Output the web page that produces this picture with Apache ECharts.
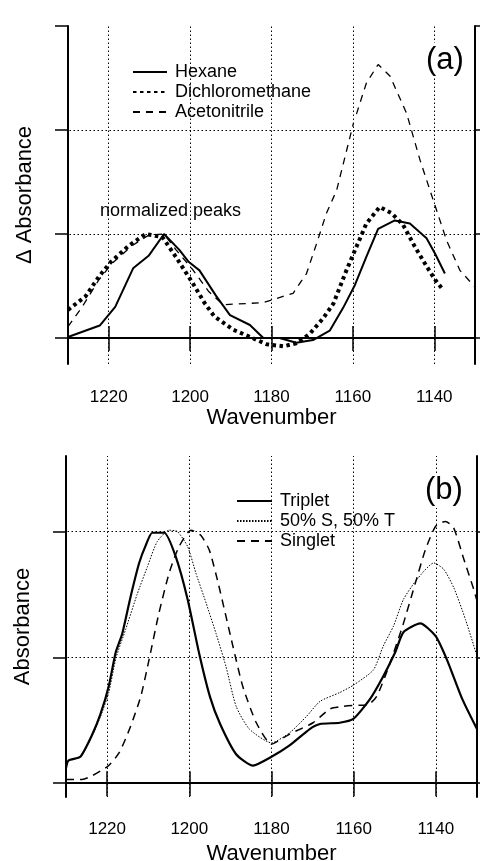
<!DOCTYPE html>
<html>
<head>
<meta charset="utf-8">
<script src="https://cdn.jsdelivr.net/npm/echarts@6/dist/echarts.min.js"></script>
<style>
  html, body { margin: 0; padding: 0; background: #fff; }
  #main { width: 480px; height: 861px; }
</style>
</head>
<body>
<div id="main"></div>
<script>
// panel (a): delta absorbance, normalized peaks
const hexWn = [1230, 1222.2, 1218.4, 1214, 1210.2, 1206.4, 1202.7, 1200.3, 1197.7, 1193.7, 1190.2, 1185.3, 1182, 1178, 1173.9, 1169.8, 1165.7, 1162.4, 1159.5, 1156.7, 1153.8, 1149.7, 1146, 1141.9, 1139.8, 1137.4]
const hexAbs = [0.01, 0.12, 0.30, 0.67, 0.79, 1.0, 0.85, 0.73, 0.65, 0.41, 0.22, 0.125, 0.0, 0.0, -0.045, -0.02, 0.07, 0.29, 0.51, 0.78, 1.05, 1.13, 1.10, 0.96, 0.81, 0.62]
const dcmWn = [1230, 1225.7, 1222.4, 1219.5, 1215, 1210.9, 1206.8, 1203.5, 1199.4, 1196.5, 1194.1, 1189.4, 1185.3, 1181.2, 1177.1, 1173.9, 1170.6, 1167.3, 1164.8, 1161.6, 1159.1, 1156.7, 1153.4, 1150.5, 1147.7, 1144.8, 1141.9, 1139.8, 1137.8]
const dcmAbs = [0.27, 0.40, 0.59, 0.73, 0.89, 1.0, 0.97, 0.78, 0.53, 0.34, 0.21, 0.08, 0.01, -0.06, -0.08, -0.05, 0.04, 0.19, 0.33, 0.65, 0.88, 1.10, 1.26, 1.20, 1.09, 0.88, 0.69, 0.56, 0.46]
const acnWn = [1230, 1226.5, 1222.4, 1219.1, 1214.2, 1210.1, 1206.4, 1203.5, 1199.4, 1195.5, 1191.9, 1182, 1174.7, 1171.4, 1168.9, 1166.5, 1164, 1159.9, 1156.7, 1153.8, 1150.9, 1146.8, 1143.5, 1140.3, 1137, 1133.7, 1130]
const acnAbs = [0.11, 0.30, 0.56, 0.72, 0.89, 0.99, 1.0, 0.85, 0.66, 0.45, 0.32, 0.34, 0.43, 0.62, 0.91, 1.20, 1.42, 2.06, 2.45, 2.63, 2.52, 2.16, 1.71, 1.33, 0.94, 0.65, 0.49]

// panel (b): absorbance
const tripWn = [1230, 1229.4, 1226.5, 1223.7, 1221.6, 1219.6, 1217.9, 1216.3, 1214.3, 1212.2, 1210.6, 1209, 1206.1, 1203.3, 1200.4, 1197.6, 1195, 1192.5, 1188.6, 1184.5, 1180, 1175.6, 1170.7, 1168.2, 1163.4, 1160.1, 1156, 1152.8, 1149.9, 1147.9, 1143.8, 1140.1, 1137.3, 1133.6, 1130]
const tripAbs = [0.12, 0.18, 0.21, 0.38, 0.55, 0.77, 1.04, 1.19, 1.48, 1.75, 1.89, 1.99, 1.99, 1.80, 1.46, 1.03, 0.69, 0.47, 0.23, 0.14, 0.21, 0.30, 0.43, 0.47, 0.48, 0.51, 0.67, 0.85, 1.04, 1.20, 1.27, 1.17, 0.98, 0.67, 0.43]
const mixWn = [1230, 1229.4, 1226.5, 1223.7, 1221.6, 1219.6, 1217.8, 1215.5, 1212.7, 1210.2, 1207.8, 1204.9, 1202.9, 1200.4, 1198.4, 1195.9, 1193.5, 1191.1, 1188.6, 1185.4, 1180, 1175.6, 1171.5, 1168.2, 1163.4, 1160, 1155.2, 1152.8, 1150.3, 1147.9, 1144.6, 1140.5, 1138.1, 1135.6, 1132.8, 1130]
const mixAbs = [0.12, 0.18, 0.21, 0.37, 0.53, 0.72, 1.0, 1.22, 1.50, 1.72, 1.92, 2.01, 2.0, 1.88, 1.67, 1.43, 1.19, 0.93, 0.61, 0.43, 0.32, 0.40, 0.53, 0.65, 0.72, 0.78, 0.90, 1.09, 1.25, 1.46, 1.62, 1.75, 1.70, 1.55, 1.30, 1.01]
const singWn = [1230, 1226.1, 1220, 1217.1, 1214.3, 1211.8, 1209.8, 1207.4, 1204.9, 1202.5, 1199.6, 1197.2, 1195.1, 1192.9, 1189.4, 1187, 1183.7, 1180, 1175.6, 1169.9, 1165.8, 1162.6, 1158.5, 1156.8, 1154.4, 1151.1, 1147.9, 1145, 1142.6, 1140.1, 1137.7, 1135.7, 1133.2, 1130.8, 1130]
const singAbs = [0.03, 0.03, 0.13, 0.24, 0.45, 0.69, 0.98, 1.35, 1.67, 1.88, 2.01, 1.97, 1.85, 1.58, 1.09, 0.77, 0.48, 0.31, 0.39, 0.48, 0.59, 0.61, 0.62, 0.62, 0.69, 0.96, 1.27, 1.59, 1.85, 2.04, 2.08, 2.03, 1.78, 1.54, 1.45]

const xTicks = [1140, 1160, 1180, 1200, 1220]
const yTicksA = [0, 1, 2, 3]
const yTicksB = [0, 1, 2]

const FONT = 'Liberation Sans, Arial, sans-serif'

function pairs (xs, ys) {
  return xs.map((x, i) => [x, ys[i]])
}

function gridLines () {
  const dotted = { type: [1.5, 2.5], width: 1, color: '#000' }
  const data = xTicks.map(v => ({ xAxis: v, lineStyle: dotted }))
  data.push({ yAxis: 1, lineStyle: dotted })
  data.push({ yAxis: 2, lineStyle: dotted })
  data.push({ yAxis: 0, lineStyle: { type: [8, 5], width: 1.5, color: '#000' } })
  return { silent: true, symbol: 'none', label: { show: false }, emphasis: { disabled: true }, data: data }
}

function xAxes (gridIndex, margin, gap) {
  const line = { show: true, lineStyle: { color: '#000', width: 2 } }
  return [
    {
      type: 'value', gridIndex: gridIndex, position: 'bottom', min: 1130, max: 1230, inverse: true,
      axisLine: line,
      axisTick: { show: true, customValues: xTicks, length: 13, lineStyle: { color: '#000', width: 1.5 } },
      axisLabel: { customValues: xTicks, color: '#000', fontSize: 17, fontFamily: FONT, margin: margin,
        formatter: v => String(v) },
      splitLine: { show: false },
      name: 'Wavenumber', nameLocation: 'middle', nameGap: gap,
      nameTextStyle: { color: '#000', fontSize: 22, fontFamily: FONT }
    },
    {
      type: 'value', gridIndex: gridIndex, position: 'top', min: 1130, max: 1230, inverse: true,
      axisLine: line,
      axisTick: { show: true, customValues: xTicks, length: 12, lineStyle: { color: '#000', width: 1.5 } },
      axisLabel: { show: false },
      splitLine: { show: false }
    }
  ]
}

function yAxes (gridIndex, min, max, ticks, title) {
  const line = { show: true, lineStyle: { color: '#000', width: 2 } }
  return [
    {
      type: 'value', gridIndex: gridIndex, position: 'left', min: min, max: max,
      axisLine: line,
      axisTick: { show: true, customValues: ticks, length: 13, lineStyle: { color: '#000', width: 1.5 } },
      axisLabel: { show: false },
      splitLine: { show: false },
      name: title, nameLocation: 'middle', nameGap: 32,
      nameTextStyle: { color: '#000', fontSize: 22, fontFamily: FONT }
    },
    {
      type: 'value', gridIndex: gridIndex, position: 'right', min: min, max: max,
      axisLine: line,
      axisTick: { show: true, customValues: ticks, length: 12, lineStyle: { color: '#000', width: 1.5 } },
      axisLabel: { show: false },
      splitLine: { show: false }
    }
  ]
}

function lineSeries (name, data, xi, yi, style, smooth) {
  return {
    name: name, type: 'line', data: data, xAxisIndex: xi, yAxisIndex: yi,
    symbol: 'none', smooth: smooth, animation: false,
    itemStyle: { color: '#000' },
    lineStyle: Object.assign({ color: '#000' }, style)
  }
}

const myChart = echarts.init(document.getElementById('main'), null, { renderer: 'canvas' })

const hexStyle = { width: 2, type: 'solid' }
const dcmStyle = { width: 4, type: [3.5, 3.5] }
const acnStyle = { width: 1.3, type: [7, 6] }
const tripStyle = { width: 2.2, type: 'solid' }
const mixStyle = { width: 1, type: [1.5, 1.5] }
const singStyle = { width: 1.5, type: [8, 6] }

const s1 = lineSeries('Hexane', pairs(hexWn, hexAbs), 0, 0, hexStyle, false)
s1.markLine = gridLines()
const s4 = lineSeries('Triplet', pairs(tripWn, tripAbs), 2, 2, tripStyle, 0.2)
s4.markLine = gridLines()

const legendBase = {
  orient: 'vertical', itemHeight: 18, itemGap: 2,
  backgroundColor: '#fff', selectedMode: false,
  itemStyle: { opacity: 0 },
  textStyle: { fontSize: 18, color: '#000', fontFamily: FONT, padding: [0, 0, 0, 3] }
}

const option = {
  backgroundColor: '#fff',
  animation: false,
  textStyle: { fontFamily: FONT },
  grid: [
    { left: 68, right: 5, top: 26, height: 338, outerBoundsMode: 'none' },
    { left: 66, right: 3, top: 456, height: 341, outerBoundsMode: 'none' }
  ],
  xAxis: xAxes(0, 25, 41).concat(xAxes(1, 24, 46)),
  yAxis: yAxes(0, -0.25, 3, yTicksA, 'Δ Absorbance').concat(yAxes(1, -0.11, 2.6, yTicksB, 'Absorbance')),
  title: [
    { text: '(a)', left: 423, top: 43, padding: [2, 3], backgroundColor: '#fff',
      textStyle: { fontSize: 31, fontWeight: 'normal', color: '#000', fontFamily: FONT } },
    { text: '(b)', left: 422, top: 473, padding: [2, 3], backgroundColor: '#fff',
      textStyle: { fontSize: 31, fontWeight: 'normal', color: '#000', fontFamily: FONT } }
  ],
  legend: [
    Object.assign({}, legendBase, {
      data: ['Hexane', 'Dichloromethane', 'Acetonitrile'],
      left: 120, top: 58, padding: [5, 45, 2, 12], itemWidth: 34
    }),
    Object.assign({}, legendBase, {
      data: ['Triplet', '50% S, 50% T', 'Singlet'],
      left: 232, top: 487, padding: [5, 5, 2, 4], itemWidth: 35
    })
  ],
  graphic: [
    { type: 'text', left: 100, top: 202,
      style: { text: 'normalized peaks', fontSize: 18, fontFamily: FONT, fill: '#000' } }
  ],
  series: [
    s1,
    lineSeries('Dichloromethane', pairs(dcmWn, dcmAbs), 0, 0, dcmStyle, false),
    lineSeries('Acetonitrile', pairs(acnWn, acnAbs), 0, 0, acnStyle, false),
    s4,
    lineSeries('50% S, 50% T', pairs(mixWn, mixAbs), 2, 2, mixStyle, 0.2),
    lineSeries('Singlet', pairs(singWn, singAbs), 2, 2, singStyle, 0.2)
  ]
}
myChart.setOption(option)
</script>
</body>
</html>
